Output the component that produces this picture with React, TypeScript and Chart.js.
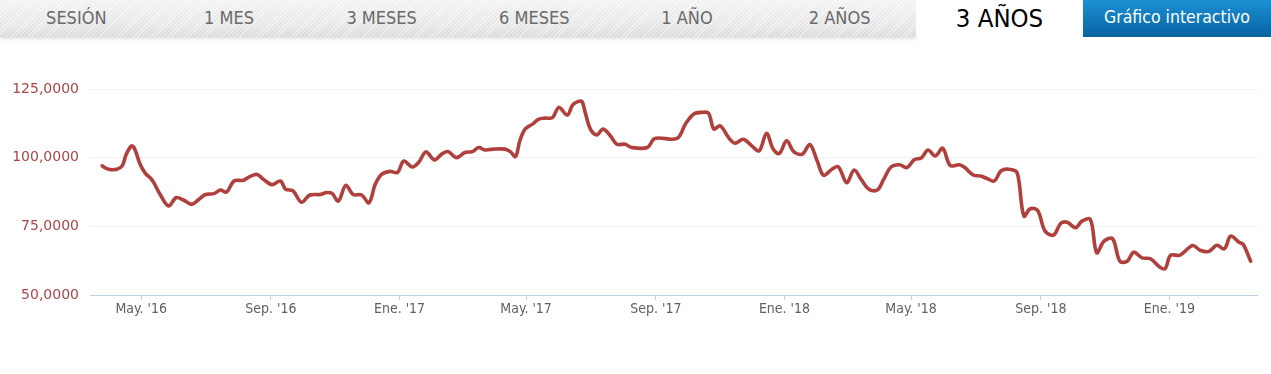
import React, { useEffect, useRef } from 'react';
import { Chart, registerables } from 'chart.js';

Chart.register(...registerables);

// Day offsets counted from BASE_DATE (2016-01-01)
const BASE_DATE = Date.UTC(2016, 0, 1);
const DAY_MS = 86400000;

const DAYS = [
  84, 90, 98, 103, 107, 112, 115, 120, 125, 130, 133, 139, 147, 154, 161, 169, 175, 182, 190, 196,
  202, 209, 218, 224, 231, 237, 245, 253, 258, 265, 273, 281, 291, 297, 302, 308, 315, 322, 330, 337,
  343, 349, 357, 364, 370, 378, 384, 391, 399, 406, 412, 420, 428, 435, 441, 447, 455, 466, 471, 476,
  480, 485, 492, 498, 504, 511, 517, 525, 530, 535, 539, 542, 547, 553, 559, 566, 572, 580, 586, 601,
  608, 629, 637, 645, 653, 659, 664, 670, 678, 684, 692, 700, 707, 714, 720, 726, 733, 740, 748, 755,
  762, 768, 776, 782, 790, 797, 804, 811, 819, 825, 832, 840, 847, 854, 861, 867, 874, 881, 888, 897,
  902, 910, 917, 923, 930, 937, 950, 953, 958, 964, 971, 978, 986, 993, 999, 1007, 1013, 1021, 1027, 1034,
  1042, 1049, 1056, 1062, 1070, 1078, 1087, 1092, 1097, 1106, 1118, 1125, 1133, 1141, 1148, 1154, 1162, 1166, 1173,
];

const VALUES = [
  97.0, 95.8, 95.8, 97.0, 101.3, 104.3, 103.1, 97.6, 94.3, 92.5, 90.9, 86.6, 82.4, 85.4, 84.6, 83.0, 84.6, 86.6, 86.9, 88.2,
  87.5, 91.5, 91.8, 93.1, 93.9, 92.1, 90.2, 91.5, 88.5, 87.9, 83.8, 86.4, 86.6, 87.3, 87.0, 84.2, 89.9, 86.6, 86.4, 83.6,
  90.3, 93.9, 95.0, 94.6, 98.8, 96.6, 98.2, 102.1, 99.2, 101.3, 102.2, 100.0, 101.9, 102.2, 103.7, 102.8, 103.1, 103.1, 102.2, 100.4,
  106.1, 110.4, 112.2, 114.0, 114.4, 114.6, 118.3, 115.5, 119.1, 120.4, 120.4, 116.5, 110.4, 108.3, 110.4, 107.9, 104.9, 104.9, 103.7, 103.7,
  107.0, 107.0, 112.2, 115.9, 116.5, 116.2, 110.4, 111.6, 107.3, 105.3, 106.7, 104.3, 102.5, 108.9, 103.3, 101.5, 106.1, 102.1, 101.3, 104.8,
  98.8, 93.6, 95.8, 96.7, 90.9, 95.5, 91.9, 88.5, 88.2, 92.1, 96.6, 97.4, 96.4, 99.2, 100.0, 102.8, 100.6, 103.4, 97.2, 97.4,
  96.4, 93.7, 93.3, 92.4, 91.5, 95.4, 95.2, 92.1, 78.7, 81.4, 80.8, 73.3, 71.8, 76.1, 76.5, 74.5, 76.9, 77.5, 65.4, 69.6,
  70.5, 62.3, 62.3, 65.6, 63.5, 63.2, 60.1, 59.6, 64.4, 64.5, 68.0, 66.3, 65.8, 68.1, 66.8, 71.4, 69.2, 68.4, 62.3,
];

const X_MIN_DAY = 72.5;
const X_MAX_DAY = 1179;
const TICK_MONTHS = ['2016-05', '2016-09', '2017-01', '2017-05', '2017-09', '2018-01', '2018-05', '2018-09', '2019-01'];
const MONTH_LABELS = ['Ene.', 'Feb.', 'Mar.', 'Abr.', 'May.', 'Jun.', 'Jul.', 'Ago.', 'Sep.', 'Oct.', 'Nov.', 'Dic.'];
const Y_TICKS = [50, 75, 100, 125];
const TABS = ['SESIÓN', '1 MES', '3 MESES', '6 MESES', '1 AÑO', '2 AÑOS'];
const ACTIVE_TAB = '3 AÑOS';
const BUTTON_LABEL = 'Gráfico interactivo';

const NARROW = '"Liberation Sans Narrow", "Arial Narrow", "DejaVu Sans Condensed", sans-serif';

function monthToDay(m: string): number {
  const [y, mo] = m.split('-').map(Number);
  return (Date.UTC(y, mo - 1, 1) - BASE_DATE) / DAY_MS;
}

function ChartView() {
  const ref = useRef<HTMLCanvasElement | null>(null);
  useEffect(() => {
    if (!ref.current) return;
    const points = DAYS.map((d, i) => ({ x: d, y: VALUES[i] }));
    const tickDays = TICK_MONTHS.map(monthToDay);
    const chart = new Chart(ref.current, {
      type: 'line',
      data: {
        datasets: [
          {
            data: points,
            borderColor: '#b0403d',
            borderWidth: 3.6,
            pointRadius: 0,
            tension: 0.35,
            fill: false,
            borderCapStyle: 'round',
            borderJoinStyle: 'round',
          },
        ],
      },
      options: {
        animation: false,
        responsive: false,
        maintainAspectRatio: false,
        layout: { padding: { top: 52, bottom: 49, left: 0, right: 14 } },
        plugins: { legend: { display: false }, tooltip: { enabled: false } },
        scales: {
          x: {
            type: 'linear',
            min: X_MIN_DAY,
            max: X_MAX_DAY,
            afterBuildTicks: (scale: any) => {
              scale.ticks = tickDays.map((v) => ({ value: v }));
            },
            afterFit: (scale: any) => {
              scale.height = 30;
            },
            border: { display: true, color: '#c0d0e0', width: 1 },
            grid: {
              drawOnChartArea: false,
              drawTicks: true,
              tickLength: 5,
              color: '#c0d0e0',
            },
            ticks: {
              autoSkip: false,
              maxRotation: 0,
              padding: 1,
              color: '#5d6068',
              font: { family: NARROW, size: 14 },
              callback: (value: any) => {
                const d = new Date(BASE_DATE + Number(value) * DAY_MS);
                return `${MONTH_LABELS[d.getUTCMonth()]} '${String(d.getUTCFullYear()).slice(2)}`;
              },
            },
          },
          y: {
            type: 'linear',
            min: 50,
            max: 125,
            afterBuildTicks: (scale: any) => {
              scale.ticks = Y_TICKS.map((v) => ({ value: v }));
            },
            afterFit: (scale: any) => {
              scale.width = 90;
            },
            border: { display: false },
            grid: {
              drawTicks: false,
              color: (ctx: any) => (ctx.tick && ctx.tick.value === 50 ? 'rgba(0,0,0,0)' : '#f0f0f0'),
              lineWidth: 1,
            },
            ticks: {
              padding: 11,
              color: '#aa4548',
              font: { family: '"DejaVu Sans", sans-serif', size: 14 },
              callback: (value: any) => Number(value).toFixed(4).replace('.', ','),
            },
          },
        },
      },
    });
    return () => chart.destroy();
  }, []);
  return <canvas ref={ref} width={1271} height={337} style={{ display: 'block', width: 1271, height: 337 }} />;
}

export default function App() {
  const grayTabWidth = 916 / TABS.length;
  return (
    <div
      style={{
        position: 'absolute',
        left: 0,
        top: 0,
        width: 1271,
        height: 374,
        background: '#ffffff',
        overflow: 'hidden',
      }}
    >
      <div
        style={{
          position: 'absolute',
          left: 0,
          top: 0,
          width: 916,
          height: 37,
          background:
            'repeating-linear-gradient(135deg, rgba(255,255,255,0.55) 0px, rgba(255,255,255,0.55) 1px, rgba(255,255,255,0) 1px, rgba(255,255,255,0) 3px), linear-gradient(#f3f3f3, #e6e6e6 70%, #d9d9d9)',
          boxShadow: '0 2px 3px rgba(0,0,0,0.12)',
          display: 'flex',
        }}
      >
        {TABS.map((t) => (
          <div
            key={t}
            style={{
              width: grayTabWidth,
              height: 37,
              lineHeight: '35px',
              textAlign: 'center',
              fontFamily: NARROW,
              fontSize: 18,
              color: '#6a6a6a',
            }}
          >
            {t}
          </div>
        ))}
      </div>
      <div
        style={{
          position: 'absolute',
          left: 916,
          top: 0,
          width: 167,
          height: 37,
          background: '#ffffff',
          lineHeight: '36px',
          textAlign: 'center',
          fontFamily: NARROW,
          fontSize: 25.5,
          color: '#000000',
        }}
      >
        {ACTIVE_TAB}
      </div>
      <div
        style={{
          position: 'absolute',
          left: 1083,
          top: 0,
          width: 188,
          height: 37,
          background: 'linear-gradient(#1c90d3, #0f75b6 60%, #0a62a0)',
          lineHeight: '35px',
          textAlign: 'center',
          fontFamily: NARROW,
          fontSize: 17.5,
          color: '#ffffff',
        }}
      >
        {BUTTON_LABEL}
      </div>
      <div style={{ position: 'absolute', left: 0, top: 37, width: 1271, height: 337 }}>
        <ChartView />
      </div>
    </div>
  );
}
